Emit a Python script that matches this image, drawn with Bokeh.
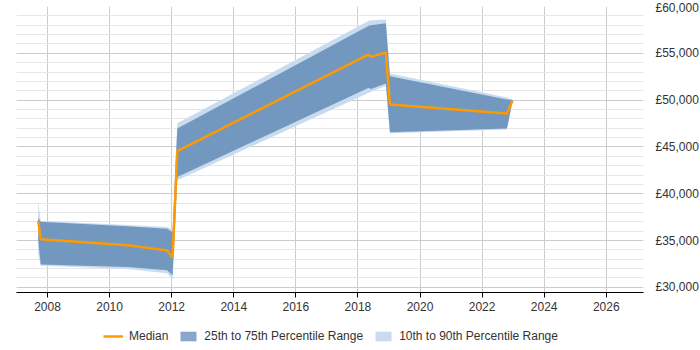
from bokeh.plotting import figure
from bokeh.layouts import column
from bokeh.models import (ColumnDataSource, FixedTicker, CustomJSTickFormatter,
                          LinearAxis, Legend, LegendItem, Range1d, Grid)
from bokeh.embed import file_html
from bokeh.resources import INLINE

# Salary percentiles over time (fractional years)
years  = [2007.70, 2007.78, 2010.57, 2011.85, 2012.03, 2012.18, 2018.35, 2018.42, 2018.90, 2019.03, 2022.80, 2022.98]
p10    = [33500,   32300,   31950,   31500,   30900,   41440,   50780,   50900,   51500,   46450,   46850,   49800]
p25    = [35000,   32450,   32170,   31820,   31300,   41800,   51310,   51200,   51780,   46570,   46960,   49850]
median = [37100,   35150,   34490,   33950,   33200,   44540,   54880,   54600,   55100,   49530,   48570,   49920]
p75    = [37400,   37020,   36520,   36270,   35900,   46960,   57940,   58000,   58220,   52560,   50070,   50000]
p90    = [39200,   37100,   36650,   36450,   36200,   47530,   58470,   58520,   58620,   52840,   50280,   50050]

x_ticks = list(range(2008, 2027, 2))
y_ticks = list(range(30000, 60001, 5000))
y_minor = list(range(30000, 60001, 1000))

OUTER_FILL = "#c9dbef"
INNER_FILL = "#7398c0"
MEDIAN_COLOR = "#ff9900"

src = ColumnDataSource(dict(x=years, p10=p10, p25=p25, med=median, p75=p75, p90=p90))

p = figure(frame_width=627, frame_height=286, output_backend="svg",
           toolbar_location=None, x_axis_location="below", y_axis_location=None,
           min_border_left=16, min_border_top=6, min_border_right=0, min_border_bottom=30,
           outline_line_color=None)
p.x_range = Range1d(2007.0, 2027.2)
p.y_range = Range1d(29450, 60000)

p.varea(x="x", y1="p10", y2="p90", source=src, fill_color=OUTER_FILL, fill_alpha=1.0)
p.varea(x="x", y1="p25", y2="p75", source=src, fill_color=INNER_FILL, fill_alpha=1.0)
p.line(x="x", y="med", source=src, line_color=MEDIAN_COLOR, line_width=2.5)

# right-hand currency axis
yaxis = LinearAxis(ticker=FixedTicker(ticks=y_ticks, minor_ticks=y_minor),
                   formatter=CustomJSTickFormatter(code="return '£' + tick.toLocaleString('en-GB');"))
yaxis.axis_line_color = None
yaxis.major_tick_line_color = None
yaxis.minor_tick_line_color = None
yaxis.major_label_text_font = "Liberation Sans"
yaxis.major_label_text_font_size = "12px"
yaxis.major_label_text_color = "#333333"
yaxis.major_label_standoff = 6
p.add_layout(yaxis, "right")

xa = p.xaxis[0]
xa.ticker = FixedTicker(ticks=x_ticks)
xa.axis_line_color = "#000000"
xa.major_tick_line_color = "#000000"
xa.major_tick_in = 0
xa.major_tick_out = 5
xa.minor_tick_line_color = None
xa.major_label_text_font = "Liberation Sans"
xa.major_label_text_font_size = "12px"
xa.major_label_text_color = "#333333"
xa.major_label_standoff = 4

p.xgrid.ticker = FixedTicker(ticks=x_ticks)
p.xgrid.grid_line_color = "#cccccc"
p.ygrid.grid_line_color = None
hgrid = Grid(dimension=1, ticker=FixedTicker(ticks=y_ticks, minor_ticks=y_minor),
             grid_line_color="#cccccc", minor_grid_line_color="#e6e6e6")
p.add_layout(hgrid, "center")

# legend strip underneath the chart; its renderers hold a single off-screen point
lg = figure(width=700, height=28, output_backend="svg", toolbar_location=None,
            min_border=0, outline_line_color=None,
            x_range=Range1d(0, 1), y_range=Range1d(0, 1))
lg.axis.visible = False
lg.grid.visible = False
stub = ColumnDataSource(dict(x=[-10], y=[-10], y1=[-10], y2=[-10]))
r_med = lg.line(x="x", y="y", source=stub, line_color=MEDIAN_COLOR, line_width=2.5)
r_in = lg.varea(x="x", y1="y1", y2="y2", source=stub, fill_color=INNER_FILL, fill_alpha=0.85)
r_out = lg.varea(x="x", y1="y1", y2="y2", source=stub, fill_color=OUTER_FILL, fill_alpha=1.0)

legend = Legend(items=[LegendItem(label="Median", renderers=[r_med]),
                       LegendItem(label="25th to 75th Percentile Range", renderers=[r_in]),
                       LegendItem(label="10th to 90th Percentile Range", renderers=[r_out])],
                orientation="horizontal", location=(87, 7),
                label_text_font="Liberation Sans", label_text_font_size="12px",
                label_text_color="#333333", border_line_color=None, background_fill_alpha=0,
                glyph_width=20, glyph_height=12, spacing=10, label_standoff=6,
                padding=2, margin=0)
lg.add_layout(legend, "center")

open("out.html", "w").write(file_html(column(p, lg, spacing=0), INLINE))
